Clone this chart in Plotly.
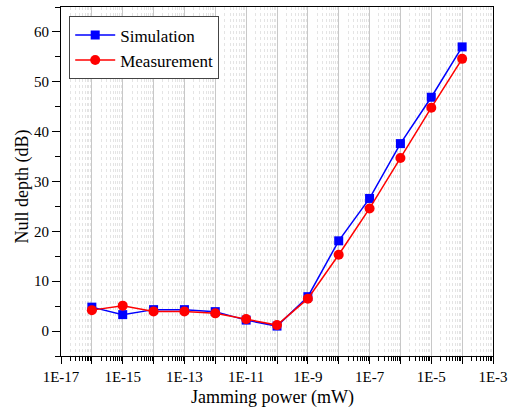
import plotly.graph_objects as go

x_power = [1e-16, 1e-15, 1e-14, 1e-13, 1e-12, 1e-11, 1e-10, 1e-9, 1e-8, 1e-7, 1e-6, 1e-5, 1e-4]
sim_db = [4.8, 3.3, 4.3, 4.3, 3.9, 2.2, 1.0, 6.9, 18.1, 26.6, 37.6, 46.9, 57.0]
meas_db = [4.2, 5.1, 3.95, 3.95, 3.55, 2.4, 1.2, 6.5, 15.3, 24.6, 34.7, 44.8, 54.6]

x_tick_vals = [10.0 ** e for e in range(-17, -2)]
x_tick_text = [("1E%d" % e) if (e % 2 != 0) else "" for e in range(-17, -2)]

x_title = "Jamming power (mW)"
y_title = "Null depth (dB)"

font_family = "Times New Roman, Liberation Serif, serif"

fig = go.Figure()
fig.add_trace(go.Scatter(
    x=x_power, y=sim_db, mode="lines+markers", name="Simulation",
    line=dict(color="#0000ff", width=1.5),
    marker=dict(symbol="square", size=9, color="#0000ff"),
))
fig.add_trace(go.Scatter(
    x=x_power, y=meas_db, mode="lines+markers", name="Measurement",
    line=dict(color="#ff0000", width=1.5),
    marker=dict(symbol="circle", size=10, color="#ff0000"),
))

fig.update_layout(
    width=516, height=415,
    margin=dict(l=61, r=23, t=7, b=59),
    paper_bgcolor="white", plot_bgcolor="white",
    font=dict(family=font_family, size=15, color="black"),
    showlegend=True,
    legend=dict(
        x=0.019, y=0.973, xanchor="left", yanchor="top",
        bgcolor="white", bordercolor="#444", borderwidth=1,
        font=dict(family=font_family, size=17),
        itemwidth=40, tracegroupgap=0,
    ),
    annotations=[
        dict(text=x_title, xref="paper", yref="paper", x=0.49, y=0,
             xanchor="center", yanchor="middle", yshift=-41, showarrow=False,
             font=dict(family=font_family, size=18)),
        dict(text=y_title, xref="paper", yref="paper", x=0, y=0.486,
             xanchor="center", yanchor="middle", xshift=-39, textangle=-90,
             showarrow=False, font=dict(family=font_family, size=18)),
    ],
)
fig.update_xaxes(
    type="log", range=[-17, -3], automargin=False,
    tickmode="array", tickvals=x_tick_vals, ticktext=x_tick_text,
    ticks="outside", ticklen=7, tickcolor="black", tickwidth=1,
    showline=True, linecolor="black", linewidth=1, mirror=True,
    showgrid=True, gridcolor="#c8c8c8", gridwidth=1,
    minor=dict(dtick="D1", ticks="outside", ticklen=4, tickcolor="black",
               showgrid=True, gridcolor="#e4e4e4", griddash="dot", gridwidth=1),
    tickfont=dict(size=15, family=font_family),
    zeroline=False,
)
fig.update_yaxes(
    range=[-5, 65], automargin=False,
    tickmode="linear", tick0=0, dtick=10,
    ticks="outside", ticklen=8, tickcolor="black", tickwidth=1,
    showline=True, linecolor="black", linewidth=1, mirror=True,
    showgrid=False, zeroline=False,
    minor=dict(dtick=5, ticks="outside", ticklen=5, tickcolor="black", showgrid=False),
    tickfont=dict(size=15, family=font_family),
)

fig.write_html("out.html", config={"displayModeBar": False},
               post_script="document.body.style.margin='0px';")
